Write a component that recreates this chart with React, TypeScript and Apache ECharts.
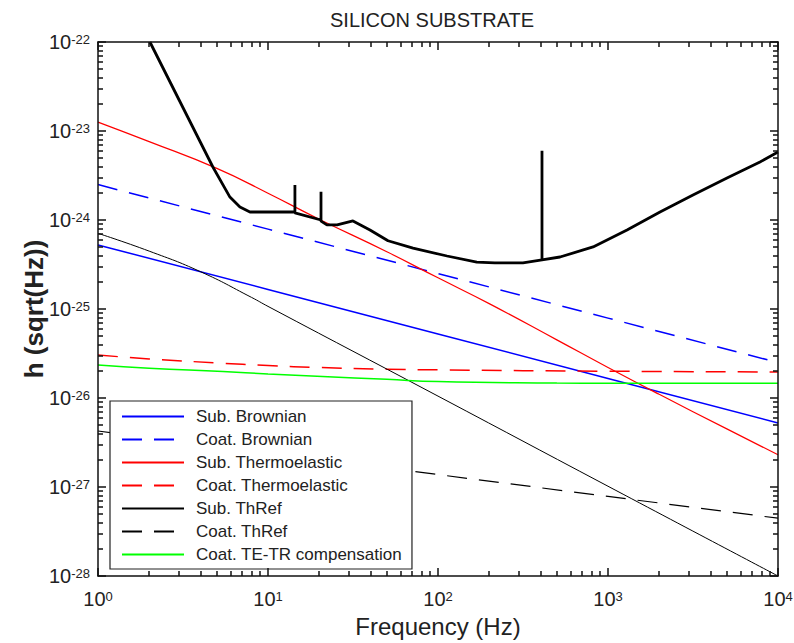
import React, { useEffect, useRef } from "react";
import * as echarts from "echarts";

const FONT = "'Liberation Sans', Arial, Helvetica, sans-serif";

// Axis ranges (decades, log10 units) and minor tick multipliers
const X_DECADES = [0, 1, 2, 3, 4];
const Y_DECADES = [-28, -27, -26, -25, -24, -23, -22];
const MINOR_K = [2, 3, 4, 5, 6, 7, 8, 9];

// Series names
const NAMES = [
  "Sub. Brownian",
  "Coat. Brownian",
  "Sub. Thermoelastic",
  "Coat. Thermoelastic",
  "Sub. ThRef",
  "Coat. ThRef",
  "Coat. TE-TR compensation",
];

// Total sensitivity curve (thick black): frequency (Hz) and strain h
const F_MAIN = [2.02, 4.74, 5.97, 6.84, 7.83, 14.4, 14.4, 14.4, 20.5, 20.5, 20.5, 22.2, 25.5, 31.6, 39.8, 50.8, 71.3, 113, 169, 216, 316, 409, 409, 409, 522, 817, 1294, 2023, 3162, 5012, 7834, 10000];
const H_MAIN = [1.0e-22, 3.94e-24, 1.81e-24, 1.4e-24, 1.23e-24, 1.23e-24, 2.47e-24, 1.2e-24, 1.0e-24, 2.08e-24, 0.97e-24, 8.8e-25, 8.8e-25, 9.75e-25, 7.73e-25, 5.85e-25, 4.84e-25, 3.94e-25, 3.37e-25, 3.29e-25, 3.29e-25, 3.56e-25, 6.0e-24, 3.56e-25, 3.84e-25, 4.98e-25, 7.73e-25, 1.23e-24, 1.91e-24, 2.96e-24, 4.49e-24, 5.8e-24];

const F_SUB_BROWN = [1, 10, 100, 1000, 10000];
const H_SUB_BROWN = [5.25e-25, 1.66e-25, 5.25e-26, 1.66e-26, 5.25e-27];

const F_COAT_BROWN = [1, 10, 100, 1000, 10000];
const H_COAT_BROWN = [2.5e-24, 7.9e-25, 2.5e-25, 7.9e-26, 2.5e-26];

const F_SUB_TE = [1, 2, 5, 10, 20, 50, 100, 200, 500, 1000, 2000, 5000, 10000];
const H_SUB_TE = [1.26e-23, 7.6e-24, 3.8e-24, 2.0e-24, 1.02e-24, 4.4e-25, 2.24e-25, 1.15e-25, 4.5e-26, 2.2e-26, 1.1e-26, 4.5e-27, 2.3e-27];

const F_COAT_TE = [1, 2, 5, 10, 20, 50, 100, 1000, 10000];
const H_COAT_TE = [3.04e-26, 2.75e-26, 2.48e-26, 2.32e-26, 2.2e-26, 2.11e-26, 2.07e-26, 2.0e-26, 1.96e-26];

const F_SUB_TR = [1, 2, 4, 8, 10, 100, 1000, 10000];
const H_SUB_TR = [7.08e-25, 4.47e-25, 2.63e-25, 1.35e-25, 1.07e-25, 1.05e-26, 1.02e-27, 1.0e-28];

const F_COAT_TR = [1, 10, 100, 1000, 10000];
const H_COAT_TR = [4.26e-27, 2.42e-27, 1.38e-27, 7.83e-28, 4.46e-28];

const F_COMP = [1, 2, 5.43, 10, 20.9, 50, 100, 500, 1000, 10000];
const H_COMP = [2.35e-26, 2.16e-26, 1.98e-26, 1.86e-26, 1.74e-26, 1.62e-26, 1.53e-26, 1.47e-26, 1.46e-26, 1.46e-26];

// plotted on log10 value axes
const pairs = (f: number[], h: number[]) => f.map((v, i) => [Math.log10(v), Math.log10(h[i])]);

export default function App() {
  const ref = useRef<HTMLDivElement>(null);
  useEffect(() => {
    if (!ref.current) return;
    const chart = echarts.init(ref.current, undefined, { renderer: "svg" });

    const minorOf = (decades: number[]) => {
      const out: number[] = [];
      for (let i = 0; i < decades.length - 1; i++)
        MINOR_K.forEach((k) => out.push(decades[i] + Math.log10(k)));
      return out;
    };
    const xMinor = minorOf(X_DECADES);
    const yMinor = minorOf(Y_DECADES);

    const axisColor = "#111";
    const rich = {
      b: { fontSize: 20, fontFamily: FONT, color: "#222", padding: [8, 0, 8, 0], lineHeight: 22 },
      s: { fontSize: 13, fontFamily: FONT, color: "#222", verticalAlign: "top", lineHeight: 13, padding: [2, 0, 0, 0] },
    };
    const fmt = (v: number) => `{b|10}{s|${Math.round(v)}}`;

    const tickStyle = { color: axisColor, width: 1.5 };

    const mkX = (pos: string, minor: boolean, main: boolean) => ({
      type: "value",
      min: X_DECADES[0],
      max: X_DECADES[X_DECADES.length - 1],
      interval: 1,
      position: pos,
      gridIndex: 0,
      axisLine: { show: !minor, onZero: false, lineStyle: { color: axisColor, width: 1.5 } },
      axisTick: minor
        ? { show: true, inside: true, length: 5, customValues: xMinor, lineStyle: tickStyle }
        : { show: true, inside: true, length: 8, lineStyle: tickStyle },
      axisLabel: main ? { show: true, formatter: fmt, rich, margin: 12 } : { show: false },
      splitLine: { show: false },
      z: 10,
      ...(main
        ? {
            name: "Frequency (Hz)",
            nameLocation: "middle",
            nameGap: 38,
            nameMoveOverlap: false,
            nameTextStyle: { fontSize: 24, fontFamily: FONT, color: "#222" },
          }
        : {}),
    });

    const mkY = (pos: string, minor: boolean, main: boolean) => ({
      type: "value",
      min: Y_DECADES[0],
      max: Y_DECADES[Y_DECADES.length - 1],
      interval: 1,
      position: pos,
      gridIndex: 0,
      axisLine: { show: !minor, onZero: false, lineStyle: { color: axisColor, width: 1.5 } },
      axisTick: minor
        ? { show: true, inside: true, length: 5, customValues: yMinor, lineStyle: tickStyle }
        : { show: true, inside: true, length: 8, lineStyle: tickStyle },
      axisLabel: main ? { show: true, formatter: fmt, rich, margin: 8 } : { show: false },
      splitLine: { show: false },
      z: 10,
      ...(main
        ? {
            name: "h (sqrt(Hz))",
            nameLocation: "middle",
            nameGap: 51,
            nameRotate: 90,
            nameMoveOverlap: false,
            nameTextStyle: { fontSize: 26, fontWeight: "bold", fontFamily: FONT, color: "#222" },
          }
        : {}),
    });

    const line = (name: string, f: number[], h: number[], color: string, width: number, dashed: boolean, smooth = false) => ({
      name,
      type: "line",
      xAxisIndex: 0,
      yAxisIndex: 0,
      data: pairs(f, h),
      symbol: "none",
      smooth,
      lineStyle: { color, width, type: dashed ? [20, 12] : "solid" },
      itemStyle: { color },
      z: 3,
    });

    chart.setOption({
      animation: false,
      backgroundColor: "#fff",
      title: {
        text: "SILICON SUBSTRATE",
        left: 330,
        top: 10,
        padding: 0,
        textStyle: { fontSize: 20, fontWeight: "normal", fontFamily: FONT, color: "#222" },
      },
      grid: { left: 98, top: 42, width: 680, height: 534, containLabel: false, outerBoundsMode: "none" },
      xAxis: [mkX("bottom", false, true), mkX("bottom", true, false), mkX("top", false, false), mkX("top", true, false)],
      yAxis: [mkY("left", false, true), mkY("left", true, false), mkY("right", false, false), mkY("right", true, false)],
      legend: {
        data: NAMES,
        orient: "vertical",
        left: 110,
        top: 401,
        itemWidth: 62,
        itemHeight: 14,
        itemGap: 6,
        padding: [7, 10, 6, 11],
        backgroundColor: "#fff",
        borderColor: "#222",
        borderWidth: 1.2,
        selectedMode: false,
        itemStyle: { opacity: 0 },
        textStyle: { fontSize: 17, fontFamily: FONT, color: "#222", padding: [0, 0, 0, 7] },
      },
      series: [
        line(NAMES[0], F_SUB_BROWN, H_SUB_BROWN, "#0000ff", 1.5, false),
        line(NAMES[1], F_COAT_BROWN, H_COAT_BROWN, "#0000ff", 1.5, true),
        line(NAMES[2], F_SUB_TE, H_SUB_TE, "#ff0000", 1.2, false, true),
        line(NAMES[3], F_COAT_TE, H_COAT_TE, "#ff0000", 1.5, true, true),
        line(NAMES[4], F_SUB_TR, H_SUB_TR, "#000000", 1, false, true),
        line(NAMES[5], F_COAT_TR, H_COAT_TR, "#000000", 1.2, true),
        line(NAMES[6], F_COMP, H_COMP, "#00ff00", 1.5, false, true),
        {
          name: "Total noise",
          type: "line",
          xAxisIndex: 0,
          yAxisIndex: 0,
          data: pairs(F_MAIN, H_MAIN),
          symbol: "none",
          lineStyle: { color: "#000", width: 2.8 },
          itemStyle: { color: "#000" },
          z: 4,
        },
      ],
    });
    return () => chart.dispose();
  }, []);
  return <div ref={ref} style={{ position: "absolute", left: 0, top: 0, width: 794, height: 643 }} />;
}
